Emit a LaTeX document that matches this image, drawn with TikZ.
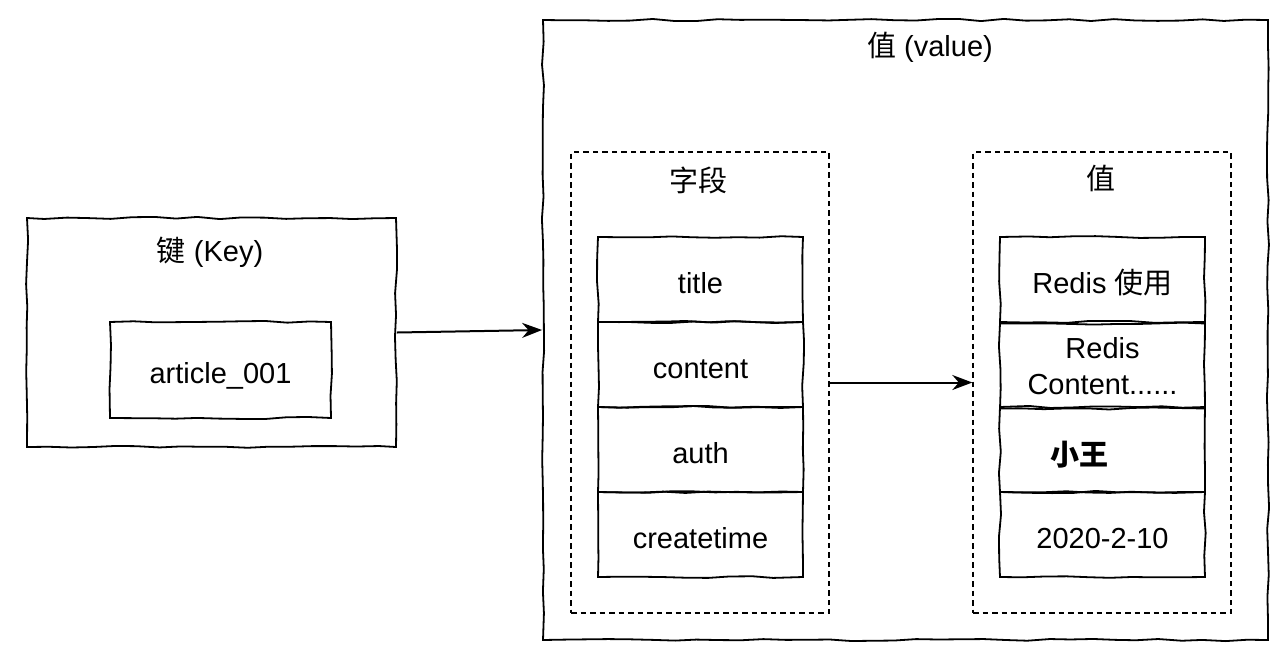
\documentclass[tikz,border=0pt]{standalone}
\usepackage{fontspec}
\setmainfont{Liberation Sans}
\newfontfamily\cjk{Noto Sans CJK SC}
\usetikzlibrary{arrows.meta,decorations.pathmorphing}

\tikzset{
    sketch/.style={draw,line width=1.8pt,decorate,
        decoration={random steps,segment length=22pt,amplitude=1.1pt}},
    group/.style={draw,line width=1.4pt,dash pattern=on 5.5pt off 4pt},
    cell/.style={sketch,minimum width=205pt,minimum height=85pt,inner sep=0pt},
    oneline/.style={text height=27pt,text depth=0pt},
    title/.style={inner sep=0pt},
    link/.style={line width=2pt,-{Stealth[length=20pt,width=15pt]}}
}

\begin{document}
\pgfmathsetseed{7}
\begin{tikzpicture}[x=1pt,y=-1pt,every node/.style={font=\fontsize{29}{34}\selectfont}]
    \useasboundingbox (0,0) rectangle (1280,654);
    % key side
    \node[sketch,minimum width=369pt,minimum height=229pt] (keybox) at (211.5,332.5) {};
    \node[title] (keytitle) at (210,252) {{\cjk 键} (Key)};
    \node[sketch,oneline,minimum width=221pt,minimum height=96pt] (keyname) at (220.5,370) {article\_001};
    % value side
    \node[sketch,minimum width=725pt,minimum height=620pt] (valbox) at (905.5,330) {};
    \node[title] (valtitle) at (930,47) {{\cjk 值} (value)};
    \node[group,minimum width=258pt,minimum height=461pt] (fieldbox) at (700,382.5) {};
    \node[title] (fieldtitle) at (698,180) {\cjk 字段};
    \node[group,minimum width=258pt,minimum height=461pt] (databox) at (1102,382.5) {};
    \node[title] (datatitle) at (1101,178) {\cjk 值};
    % fields
    \foreach \lbl [count=\i] in {title,content,auth,createtime}
        \node[cell,oneline] (f\i) at (700.5,194.5+85*\i) {\lbl};
    % values
    \node[cell,oneline] (v1) at (1102.5,279.5) {Redis {\cjk 使用}};
    \node[cell,align=center,font=\fontsize{29}{36}\selectfont] (v2) at (1102.5,366) {Redis\\Content......};
    \node[cell] (v3) at (1102.5,449.5) {};
    \node[title] (v3text) at (1079,455) {\cjk\bfseries 小王};
    \node[cell,oneline] (v4) at (1102.5,534.5) {2020-2-10};
    % arrows
    \draw[link] (keybox.east) -- (valbox.west);
    \draw[link] (fieldbox.east) -- (databox.west);
\end{tikzpicture}
\end{document}
